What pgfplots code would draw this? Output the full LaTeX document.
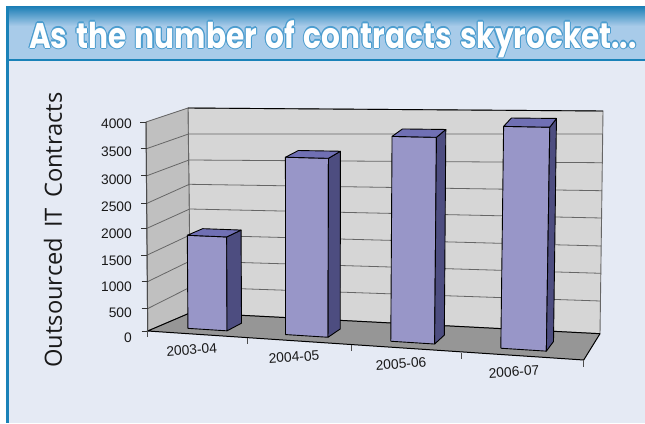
\documentclass[border=0pt]{standalone}
\usepackage{fontspec}
\setmainfont{Liberation Sans}
\newfontfamily\headfont{Poppins}[WordSpace=1.38]
\newfontfamily\labelfont{Open Sans}
\usepackage{pgfplots}
\pgfplotsset{compat=1.18}
\definecolor{rule}{HTML}{1A82B8}
\definecolor{headtop}{HTML}{1A7DB5}
\definecolor{headlow}{HTML}{A8CBE9}
\definecolor{panel}{HTML}{E5EAF4}
\definecolor{backwall}{HTML}{D6D6D6}
\definecolor{sidewall}{HTML}{C0C0C0}
\definecolor{floorc}{HTML}{969696}
\definecolor{gridc}{HTML}{666666}
\definecolor{barfront}{HTML}{9896C8}
\definecolor{barside}{HTML}{4D4D80}
\definecolor{bartop}{HTML}{7070B4}
\definecolor{titleedge}{HTML}{4C9DCF}
% One face of a bar, given as t (along the front edge), v (depth, 0 front to 1 back), z (contracts)
\newcommand{\barface}[2]{%
  \addplot[fill=#1,draw=black,line width=0.9pt,line join=round] table[row sep=\\,
    x expr={px(\thisrow{t},\thisrow{v},\thisrow{z}/4000)},
    y expr={py(\thisrow{t},\thisrow{v},\thisrow{z}/4000)}] {t v z\\ #2};}
\newcommand{\drawbar}[3]{%
  \barface{barfront}{#1 0.24 0\\ #2 0.24 0\\ #2 0.24 #3\\ #1 0.24 #3\\ #1 0.24 0\\}
  \barface{barside}{#2 0.24 0\\ #2 0.62 0\\ #2 0.62 #3\\ #2 0.24 #3\\ #2 0.24 0\\}
  \barface{bartop}{#1 0.24 #3\\ #2 0.24 #3\\ #2 0.62 #3\\ #1 0.62 #3\\ #1 0.24 #3\\}}
\newcommand{\gridline}[2]{\addplot[gridc,line width=0.8pt] coordinates {#1 #2};}
\newcommand{\ticklabel}[2]{\node[anchor=east,inner sep=0pt,font=\fontsize{13.8}{14}\selectfont,text=black!90] at (axis cs:132,#1) {#2};}
\newcommand{\catlabel}[3]{\node[rotate=4,inner sep=0pt,font=\fontsize{13.8}{14}\selectfont,text=black!90] at (axis cs:#1,#2) {#3};}
\newcommand{\headtext}[3]{\node[anchor=base west,inner sep=0pt,text=#3,xshift=#1pt,yshift=#2pt] at (axis cs:29,48)
  {\scalebox{0.833}[1]{\headfont\bfseries\fontsize{35.5}{36}\selectfont As the number of contracts skyrocket...}};}
\begin{document}
\begin{tikzpicture}
\begin{axis}[
  width=645pt, height=423pt, scale only axis,
  xmin=0, xmax=645, ymin=0, ymax=423, y dir=reverse,
  hide axis, clip=true,
  declare function={
    px(\p,\q,\s)=(1-\s)*((1-\q)*((1-\p)*147.7+\p*583.7)+\q*((1-\p)*190+\p*600))
                 +\s*((1-\q)*((1-\p)*146+\p*588)+\q*((1-\p)*188+\p*603));
    py(\p,\q,\s)=(1-\s)*((1-\q)*((1-\p)*331+\p*360)+\q*((1-\p)*312+\p*334))
                 +\s*((1-\q)*((1-\p)*122+\p*132)+\q*((1-\p)*108+\p*108));
  }]
% Page furniture
\addplot[fill=white,draw=none] coordinates {(0,0)(645,0)(645,423)(0,423)} --cycle;
\addplot[fill=panel,draw=none] coordinates {(9,60)(645,60)(645,423)(9,423)} --cycle;
\fill[top color=headtop,bottom color=headlow] (axis cs:6,6) rectangle (axis cs:645,26);
\addplot[fill=headlow,draw=none] coordinates {(6,26)(645,26)(645,59)(6,59)} --cycle;
\addplot[fill=rule,draw=none] coordinates {(6,58.5)(645,58.5)(645,61)(6,61)} --cycle;
\addplot[fill=rule,draw=none] coordinates {(6,6)(9,6)(9,423)(6,423)} --cycle;
% Walls and floor
\addplot[fill=backwall,draw=gridc,line width=0.9pt] coordinates {(188,108)(603,111)(600,333.7)(190.5,312.7)} --cycle;
\addplot[fill=sidewall,draw=gridc,line width=0.9pt] coordinates {(146,122)(188,108)(190.5,312.7)(147.7,331)} --cycle;
\addplot[fill=floorc,draw=none] coordinates {(147.7,331)(190.5,312.7)(600,333.7)(583.7,360)} --cycle;
\addplot[black,line width=0.9pt] coordinates {(188,108)(603,111)};
% Gridlines: side wall, then back wall
\gridline{(146.5,148.7)(188.5,134)}{(188.5,134)(602.7,134)}
\gridline{(147,175.7)(189,160)}{(189,160)(602.3,162.7)}
\gridline{(147,203.3)(189.3,184.3)}{(189.3,184.3)(602,190.7)}
\gridline{(147,228.3)(189.7,209)}{(189.7,209)(601.7,218)}
\gridline{(147.3,255)(190,235)}{(190,235)(601.3,246)}
\gridline{(147.5,281.7)(190,261)}{(190,261)(601,273.3)}
\gridline{(147.5,308.7)(190.5,287)}{(190.5,287)(600.5,301)}
% Floor edges, axis lines and ticks
\addplot[black,line width=1pt] coordinates {(190.5,312.7)(600,333.7)};
\addplot[black,line width=1pt] coordinates {(600,333.7)(583.7,360)(147.7,331)(190.5,312.7)};
\addplot[black!70,line width=1pt] coordinates {(146,122)(147.7,331)};
\addplot[black!80,line width=0.8pt] coordinates {(140,122)(146,122)};
\addplot[black!80,line width=0.8pt] coordinates {(140.5,148.7)(146.5,148.7)};
\addplot[black!80,line width=0.8pt] coordinates {(141,175.7)(147,175.7)};
\addplot[black!80,line width=0.8pt] coordinates {(141,203.3)(147,203.3)};
\addplot[black!80,line width=0.8pt] coordinates {(141.3,228.3)(147.3,228.3)};
\addplot[black!80,line width=0.8pt] coordinates {(141.3,255)(147.3,255)};
\addplot[black!80,line width=0.8pt] coordinates {(141.5,281.7)(147.5,281.7)};
\addplot[black!80,line width=0.8pt] coordinates {(141.5,308.7)(147.5,308.7)};
\addplot[black!80,line width=0.8pt] coordinates {(141.7,331)(147.7,331)};
\addplot[black!70,line width=0.8pt] coordinates {(147.7,331)(147.7,337)};
\addplot[black!70,line width=0.8pt] coordinates {(247,337.7)(247,343.7)};
\addplot[black!70,line width=0.8pt] coordinates {(351.7,345)(351.7,351)};
\addplot[black!70,line width=0.8pt] coordinates {(461.7,352.5)(461.7,358.5)};
\addplot[black!70,line width=0.8pt] coordinates {(583.7,360)(583.7,366.5)};
% The four bars: start and end along the front edge, then the number of contracts
\drawbar{0.070}{0.161}{1780}
\drawbar{0.297}{0.396}{3320}
\drawbar{0.542}{0.644}{3750}
\drawbar{0.798}{0.904}{3970}
% Value axis labels
\ticklabel{124}{4000}
\ticklabel{152}{3500}
\ticklabel{180}{3000}
\ticklabel{207}{2500}
\ticklabel{234}{2000}
\ticklabel{261}{1500}
\ticklabel{287}{1000}
\ticklabel{313}{500}
\ticklabel{338}{0}
% Category labels
\catlabel{191.7}{349.7}{2003-04}
\catlabel{294}{357}{2004-05}
\catlabel{401}{363.7}{2005-06}
\catlabel{514}{371.7}{2006-07}
% Axis title
\node[rotate=90,inner sep=0pt,font=\labelfont\fontsize{23.7}{24}\selectfont,text=black!90] at (axis cs:53,230) {Outsourced\, IT\, Contracts};
% Heading: outline copies beneath the white text
\headtext{-1.1}{0}{titleedge}\headtext{1.1}{0}{titleedge}\headtext{0}{1.1}{titleedge}\headtext{0}{-1.1}{titleedge}
\headtext{-0.8}{-0.8}{titleedge}\headtext{0.8}{0.8}{titleedge}\headtext{-0.8}{0.8}{titleedge}\headtext{0.8}{-0.8}{titleedge}
\headtext{0}{0}{white}
\end{axis}
\end{tikzpicture}
\end{document}
